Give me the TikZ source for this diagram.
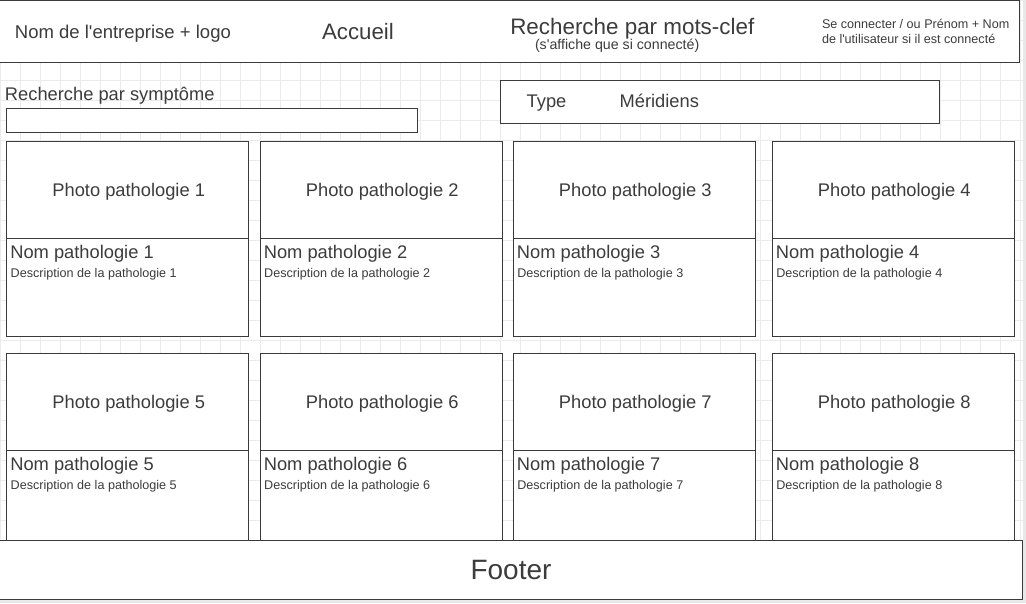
\documentclass[tikz,border=0pt]{standalone}
\usepackage{fontspec}
\setmainfont{Liberation Sans}
\definecolor{linec}{HTML}{3A3A3A}
\definecolor{textc}{HTML}{3C3C3C}
\definecolor{gridc}{HTML}{EBEBEB}
\definecolor{outc}{HTML}{E8E8E8}
\newcommand{\apo}{\textquotesingle}
\begin{document}
\begin{tikzpicture}[x=1pt,y=-1pt,
  box/.style={draw=linec, line width=1.3pt, fill=white, inner sep=0pt, outer sep=0pt, anchor=north west},
  txt/.style={text=textc, inner sep=0pt, outer sep=0pt, anchor=base west},
  ctxt/.style={text=textc, inner sep=0pt, outer sep=0pt, anchor=base},
  gridline/.style={draw=gridc, line width=1pt}]
\useasboundingbox (0,0) rectangle (1026,603);
\fill[outc] (0,0) rectangle (1026,603);
\fill[white] (0,0) rectangle (1023,600);
\foreach \i in {0,20,...,1020} \draw[gridline] (\i,0) -- (\i,600);
\foreach \j in {0,20,...,600} \draw[gridline] (0,\j) -- (1023,\j);
% header
\node[box, minimum width=1025.3pt, minimum height=61.6pt] (header) at (-6,0.7) {};
\node[txt, font=\fontsize{18.5}{22}\selectfont] (company) at (15,38.3) {Nom de l\apo entreprise + logo};
\node[txt, font=\fontsize{22.3}{26}\selectfont] (home) at (322,39.3) {Accueil};
\node[txt, font=\fontsize{22.4}{26}\selectfont] (kw) at (510.3,34) {Recherche par mots-clef};
\node[txt, font=\fontsize{14.2}{17}\selectfont] (kwnote) at (535,49.5) {(s\apo affiche que si connecté)};
\node[txt, font=\fontsize{12.6}{15}\selectfont] (login1) at (822,28.7) {Se connecter / ou Prénom + Nom};
\node[txt, font=\fontsize{12.6}{15}\selectfont] (login2) at (822,43.7) {de l\apo utilisateur si il est connecté};
% symptom search
\node[txt, font=\fontsize{18.3}{21}\selectfont] (symlabel) at (5,100.7) {Recherche par symptôme};
\node[box, minimum width=411pt, minimum height=24pt] (symbox) at (6.7,108.3) {};
% filter bar
\node[box, minimum width=439pt, minimum height=43pt] (filter) at (500.3,80.3) {};
\node[txt, font=\fontsize{18.3}{21}\selectfont] (type) at (526.7,107.7) {Type};
\node[txt, font=\fontsize{18.3}{21}\selectfont] (meridiens) at (619.6,107.7) {Méridiens};
% cards
\foreach \n/\x/\y in {1/6.7/141.3, 2/260.2/141.3, 3/513.3/141.3, 4/772.3/141.3,
                      5/6.7/353.3, 6/260.2/353.3, 7/513.3/353.3, 8/772.3/353.3}{
  \node[box, minimum width=242pt, minimum height=97.3pt] (photo\n) at (\x,\y) {};
  \node[ctxt, font=\fontsize{18.3}{21}\selectfont] (phototxt\n) at ([xshift=1pt,yshift=-6.2pt]photo\n.center) {Photo pathologie \n};
  \node[box, minimum width=242pt, minimum height=98pt] (body\n) at (\x,\y+97.3) {};
  \node[txt, font=\fontsize{18.3}{21}\selectfont] (name\n) at ([xshift=3.6pt,yshift=-20.3pt]body\n.north west) {Nom pathologie \n};
  \node[txt, font=\fontsize{12.6}{15}\selectfont] (desc\n) at ([xshift=4pt,yshift=-39pt]body\n.north west) {Description de la pathologie \n};
}
% footer
\node[box, minimum width=1028.7pt, minimum height=59pt] (footer) at (-6,540.3) {};
\node[ctxt, font=\fontsize{28}{32}\selectfont] (footertxt) at (511,579) {Footer};
\end{tikzpicture}
\end{document}
